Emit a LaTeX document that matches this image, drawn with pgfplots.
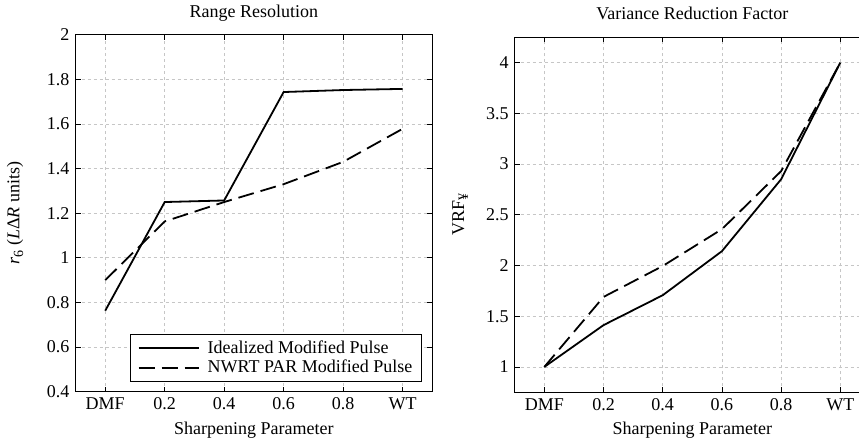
\documentclass[border=0pt]{standalone}
\usepackage{fontspec}
\setmainfont{Liberation Serif}
\usepackage{pgfplots}
\pgfplotsset{compat=1.18}
\pgfplotsset{
  every axis title shift=0pt,
  mystyle/.style={
    scale only axis,
    xmin=-0.5, xmax=5.5,
    xtick={0,1,2,3,4,5},
    xticklabels={DMF,0.2,0.4,0.6,0.8,WT},
    tick align=inside,
    major tick length=5pt,
    tick style={black, line width=0.8pt},
    axis line style={black, line width=1.2pt},
    grid=major,
    major grid style={gray!45, dash pattern=on 3pt off 3pt, line width=0.7pt},
    /pgf/number format/assume math mode=true,
    tick label style={font=\fontsize{18}{21}\selectfont},
    label style={font=\fontsize{18}{21}\selectfont},
    title style={font=\fontsize{18}{21}\selectfont},
    xlabel={Sharpening Parameter},
  },
}
\begin{document}
\fontsize{18}{21}\selectfont
\begin{tikzpicture}
\begin{axis}[mystyle,
  at={(75.5pt,51.3pt)}, anchor=south west,
  width=356.8pt, height=357pt,
  ymin=0.4, ymax=2,
  ytick={0.4,0.6,0.8,1,1.2,1.4,1.6,1.8,2},
  xlabel style={at={(axis description cs:0.5,-0.107)}, anchor=center},
  ylabel={\textit{r}\raisebox{-0.45ex}{\fontsize{14}{16}\selectfont 6}\ (\textit{L}Δ\textit{R} units)},
  ylabel style={at={(axis description cs:-0.1696,0.5)}, anchor=center},
  title={Range Resolution},
  title style={at={(axis description cs:0.5,1.061)}, anchor=center},
  legend style={at={(rel axis cs:0.9711,0.0272)}, anchor=south east,
    draw=black, line width=1.2pt, font=\fontsize{18}{21}\selectfont,
    row sep=0pt, column sep=6pt, inner xsep=7pt, inner ysep=4pt, cells={anchor=west}},
  legend cell align=left,
  legend image code/.code={\draw[#1] (0pt,0pt) -- (60pt,0pt);},
]
\addplot[black, line width=1.8pt] coordinates {(0,0.763) (1,1.250) (2,1.257) (3,1.743) (4,1.752) (5,1.757)};
\addlegendentry{Idealized Modified Pulse}
\addplot[black, line width=1.8pt, dash pattern=on 16pt off 7pt] coordinates {(0,0.900) (1,1.163) (2,1.250) (3,1.330) (4,1.430) (5,1.578)};
\addlegendentry{NWRT PAR Modified Pulse}
\end{axis}
\begin{axis}[mystyle,
  at={(514.7pt,50.7pt)}, anchor=south west,
  width=355.2pt, height=355pt,
  ymin=0.75, ymax=4.25,
  ytick={1,1.5,2,2.5,3,3.5,4},
  xlabel style={at={(axis description cs:0.5,-0.107)}, anchor=center},
  ylabel={VRF\raisebox{-0.45ex}{\fontsize{14}{16}\selectfont ¥}},
  ylabel style={at={(axis description cs:-0.154,0.5)}, anchor=center},
  title={Variance Reduction Factor},
  title style={at={(axis description cs:0.5,1.068)}, anchor=center},
]
\addplot[black, line width=1.8pt] coordinates {(0,1) (1,1.412) (2,1.707) (3,2.141) (4,2.850) (5,4)};
\addplot[black, line width=1.8pt, dash pattern=on 16pt off 7pt] coordinates {(0,1) (1,1.690) (2,1.995) (3,2.358) (4,2.930) (5,4)};
\end{axis}
\pgfresetboundingbox
\useasboundingbox (0pt,0pt) rectangle (859pt,443pt);
\end{tikzpicture}
\end{document}
